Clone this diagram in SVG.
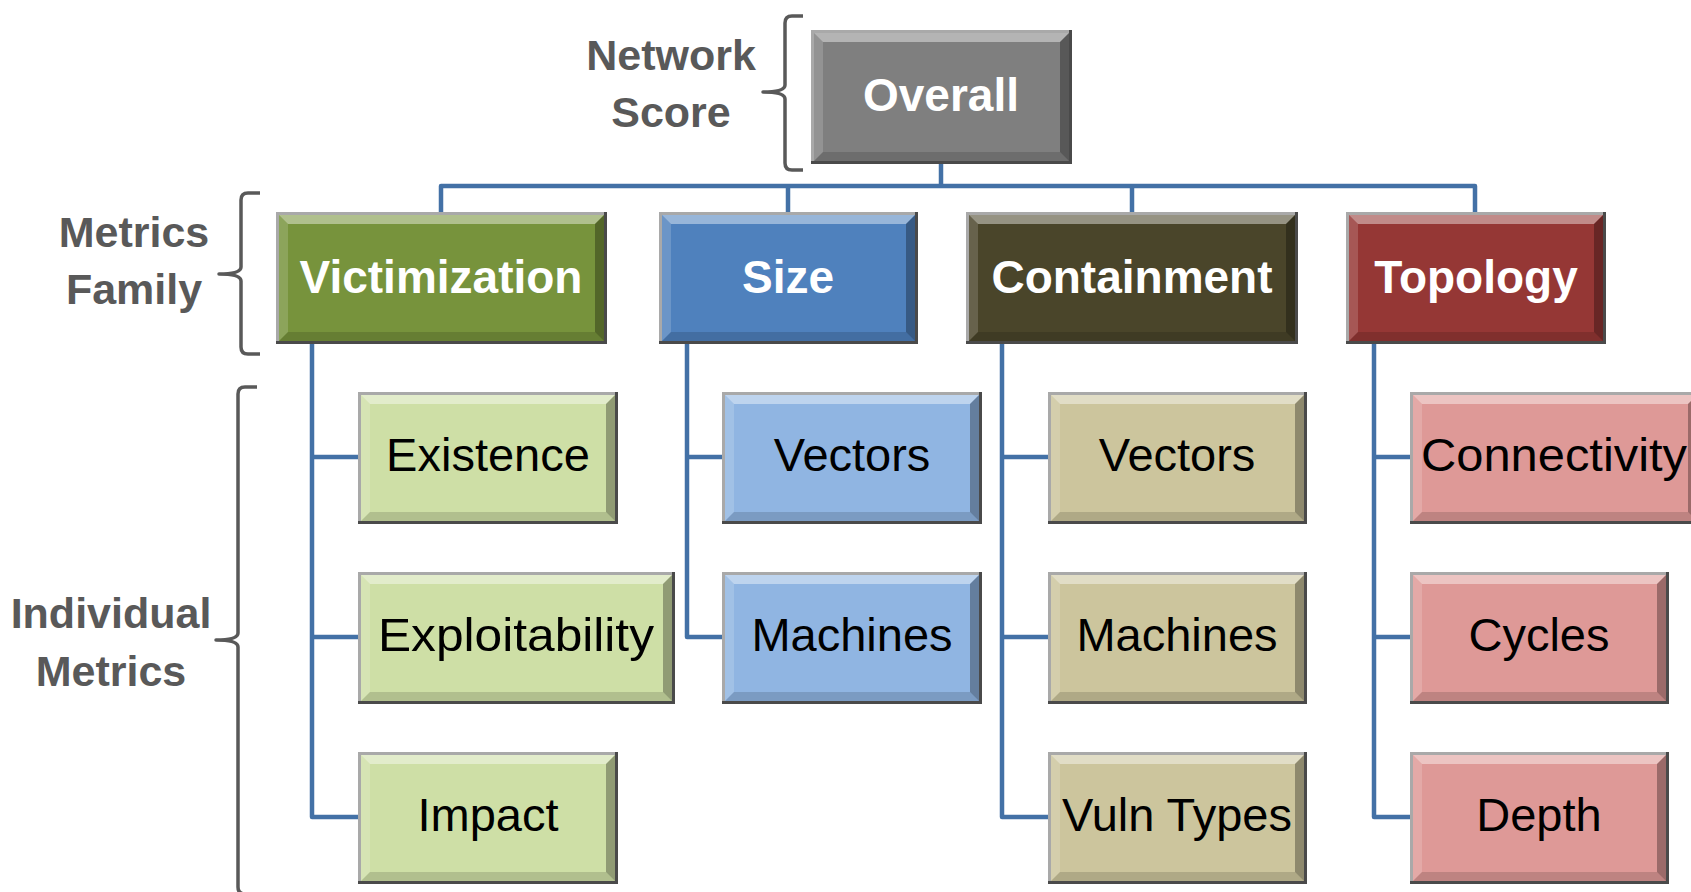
<svg xmlns="http://www.w3.org/2000/svg" xmlns:xlink="http://www.w3.org/1999/xlink" width="1691" height="892" viewBox="0 0 1691 892">
  <style>
    .edge-dark { fill: #4a4a4a; }
    .edge-light { fill: #a9a9a9; }
    .bv-t { fill: #ffffff; fill-opacity: 0.42; }
    .bv-l { fill: #ffffff; fill-opacity: 0.16; }
    .bv-b { fill: #000000; fill-opacity: 0.14; }
    .bv-r { fill: #000000; fill-opacity: 0.3; }
    .gray .face { fill: #7f7f7f; }
    .olive .face { fill: #77933c; }
    .blue .face { fill: #4f81bd; }
    .brown .face { fill: #4a452a; }
    .red .face { fill: #953735; }
    .lgreen .face { fill: #cedfa6; }
    .lblue .face { fill: #90b5e2; }
    .tan .face { fill: #ccc59d; }
    .pink .face { fill: #de9997; }
    .node text { font-family: "Liberation Sans", Arial, sans-serif; text-anchor: middle; }
    .family text { font-size: 46px; font-weight: bold; fill: #ffffff; }
    .leaf text { font-size: 47px; fill: #000000; }
    .conn { fill: none; stroke: #4371a6; stroke-width: 4.5; stroke-linejoin: round; }
    .brace { fill: none; stroke: #595959; stroke-width: 3.5; stroke-linejoin: round; }
    .tier { font-family: "Liberation Sans", Arial, sans-serif; font-size: 43px; font-weight: bold; fill: #595959; text-anchor: middle; }
  </style>
  <defs>
    <!-- left bevel strip, shared by every 132px-high box -->
    <path id="bv-left" class="bv-l" d="M3,3L12,12V120L3,129Z"/>
  </defs>

  <rect width="1691" height="892" fill="#ffffff"/>

  <!-- tier labels and braces -->
  <g id="tier-labels">
    <text class="tier" x="671" y="70">Network</text>
    <text class="tier" x="671" y="127">Score</text>
    <text class="tier" x="134" y="247">Metrics</text>
    <text class="tier" x="134" y="304">Family</text>
    <text class="tier" x="111" y="628">Individual</text>
    <text class="tier" x="111" y="686">Metrics</text>
  </g>
  <g id="braces">
    <path class="brace" d="M803,16H792Q785,16 785,23V85Q785,92 763,92Q785,92 785,99V163Q785,170 792,170H803"/>
    <path class="brace" d="M260,193H248Q241,193 241,200V267Q241,274 219,274Q241,274 241,281V347Q241,354 248,354H260"/>
    <path class="brace" d="M257,387H245Q238,387 238,394V633Q238,640 216,640Q238,640 238,647V887Q238,894 245,894H257"/>
  </g>

  <!-- tree connectors -->
  <g id="connectors">
    <path class="conn" d="M941,164V186"/>
    <path class="conn" d="M441,212V186H1475V212"/>
    <path class="conn" d="M788,186V212"/>
    <path class="conn" d="M1132,186V212"/>
    <path class="conn" d="M312,344V817H358M312,457H358M312,637H358"/>
    <path class="conn" d="M687,344V637H722M687,457H722"/>
    <path class="conn" d="M1002,344V817H1048M1002,457H1048M1002,637H1048"/>
    <path class="conn" d="M1374,344V817H1410M1374,457H1410M1374,637H1410"/>
  </g>

  <!-- root -->
  <g id="node-overall" class="node family gray" transform="translate(811,30)">
    <rect class="edge-dark" width="261" height="134"/>
    <rect class="edge-light" width="258" height="131"/>
    <rect class="face" x="3" y="3" width="255" height="128"/>
    <path class="bv-t" d="M3,3H258L249,12H12Z"/>
    <path class="bv-l" d="M3,3L12,12V122L3,131Z"/>
    <path class="bv-b" d="M3,131L12,122H249L258,131Z"/>
    <path class="bv-r" d="M258,3V131L249,122V12Z"/>
    <text x="130" y="81">Overall</text>
  </g>

  <!-- metric families -->
  <g id="node-victimization" class="node family olive" transform="translate(276,212)">
    <rect class="edge-dark" width="331" height="132"/>
    <rect class="edge-light" width="328" height="129"/>
    <rect class="face" x="3" y="3" width="325" height="126"/>
    <path class="bv-t" d="M3,3H328L319,12H12Z"/>
    <use href="#bv-left"/>
    <path class="bv-b" d="M3,129L12,120H319L328,129Z"/>
    <path class="bv-r" d="M328,3V129L319,120V12Z"/>
    <text x="165" y="81">Victimization</text>
  </g>
  <g id="node-size" class="node family blue" transform="translate(659,212)">
    <rect class="edge-dark" width="259" height="132"/>
    <rect class="edge-light" width="256" height="129"/>
    <rect class="face" x="3" y="3" width="253" height="126"/>
    <path class="bv-t" d="M3,3H256L247,12H12Z"/>
    <use href="#bv-left"/>
    <path class="bv-b" d="M3,129L12,120H247L256,129Z"/>
    <path class="bv-r" d="M256,3V129L247,120V12Z"/>
    <text x="129" y="81">Size</text>
  </g>
  <g id="node-containment" class="node family brown" transform="translate(966,212)">
    <rect class="edge-dark" width="332" height="132"/>
    <rect class="edge-light" width="329" height="129"/>
    <rect class="face" x="3" y="3" width="326" height="126"/>
    <path class="bv-t" d="M3,3H329L320,12H12Z"/>
    <use href="#bv-left"/>
    <path class="bv-b" d="M3,129L12,120H320L329,129Z"/>
    <path class="bv-r" d="M329,3V129L320,120V12Z"/>
    <text x="166" y="81">Containment</text>
  </g>
  <g id="node-topology" class="node family red" transform="translate(1346,212)">
    <rect class="edge-dark" width="260" height="132"/>
    <rect class="edge-light" width="257" height="129"/>
    <rect class="face" x="3" y="3" width="254" height="126"/>
    <path class="bv-t" d="M3,3H257L248,12H12Z"/>
    <use href="#bv-left"/>
    <path class="bv-b" d="M3,129L12,120H248L257,129Z"/>
    <path class="bv-r" d="M257,3V129L248,120V12Z"/>
    <text x="130" y="81">Topology</text>
  </g>

  <!-- victimization metrics -->
  <g id="node-existence" class="node leaf lgreen" transform="translate(358,392)">
    <rect class="edge-dark" width="260" height="132"/>
    <rect class="edge-light" width="257" height="129"/>
    <rect class="face" x="3" y="3" width="254" height="126"/>
    <path class="bv-t" d="M3,3H257L248,12H12Z"/>
    <use href="#bv-left"/>
    <path class="bv-b" d="M3,129L12,120H248L257,129Z"/>
    <path class="bv-r" d="M257,3V129L248,120V12Z"/>
    <text x="130" y="79">Existence</text>
  </g>
  <g id="node-exploitability" class="node leaf lgreen" transform="translate(358,572)">
    <rect class="edge-dark" width="317" height="132"/>
    <rect class="edge-light" width="314" height="129"/>
    <rect class="face" x="3" y="3" width="311" height="126"/>
    <path class="bv-t" d="M3,3H314L305,12H12Z"/>
    <use href="#bv-left"/>
    <path class="bv-b" d="M3,129L12,120H305L314,129Z"/>
    <path class="bv-r" d="M314,3V129L305,120V12Z"/>
    <text x="158" y="79" textLength="276" lengthAdjust="spacingAndGlyphs">Exploitability</text>
  </g>
  <g id="node-impact" class="node leaf lgreen" transform="translate(358,752)">
    <rect class="edge-dark" width="260" height="132"/>
    <rect class="edge-light" width="257" height="129"/>
    <rect class="face" x="3" y="3" width="254" height="126"/>
    <path class="bv-t" d="M3,3H257L248,12H12Z"/>
    <use href="#bv-left"/>
    <path class="bv-b" d="M3,129L12,120H248L257,129Z"/>
    <path class="bv-r" d="M257,3V129L248,120V12Z"/>
    <text x="130" y="79">Impact</text>
  </g>

  <!-- size metrics -->
  <g id="node-size-vectors" class="node leaf lblue" transform="translate(722,392)">
    <rect class="edge-dark" width="260" height="132"/>
    <rect class="edge-light" width="257" height="129"/>
    <rect class="face" x="3" y="3" width="254" height="126"/>
    <path class="bv-t" d="M3,3H257L248,12H12Z"/>
    <use href="#bv-left"/>
    <path class="bv-b" d="M3,129L12,120H248L257,129Z"/>
    <path class="bv-r" d="M257,3V129L248,120V12Z"/>
    <text x="130" y="79">Vectors</text>
  </g>
  <g id="node-size-machines" class="node leaf lblue" transform="translate(722,572)">
    <rect class="edge-dark" width="260" height="132"/>
    <rect class="edge-light" width="257" height="129"/>
    <rect class="face" x="3" y="3" width="254" height="126"/>
    <path class="bv-t" d="M3,3H257L248,12H12Z"/>
    <use href="#bv-left"/>
    <path class="bv-b" d="M3,129L12,120H248L257,129Z"/>
    <path class="bv-r" d="M257,3V129L248,120V12Z"/>
    <text x="130" y="79">Machines</text>
  </g>

  <!-- containment metrics -->
  <g id="node-containment-vectors" class="node leaf tan" transform="translate(1048,392)">
    <rect class="edge-dark" width="259" height="132"/>
    <rect class="edge-light" width="256" height="129"/>
    <rect class="face" x="3" y="3" width="253" height="126"/>
    <path class="bv-t" d="M3,3H256L247,12H12Z"/>
    <use href="#bv-left"/>
    <path class="bv-b" d="M3,129L12,120H247L256,129Z"/>
    <path class="bv-r" d="M256,3V129L247,120V12Z"/>
    <text x="129" y="79">Vectors</text>
  </g>
  <g id="node-containment-machines" class="node leaf tan" transform="translate(1048,572)">
    <rect class="edge-dark" width="259" height="132"/>
    <rect class="edge-light" width="256" height="129"/>
    <rect class="face" x="3" y="3" width="253" height="126"/>
    <path class="bv-t" d="M3,3H256L247,12H12Z"/>
    <use href="#bv-left"/>
    <path class="bv-b" d="M3,129L12,120H247L256,129Z"/>
    <path class="bv-r" d="M256,3V129L247,120V12Z"/>
    <text x="129" y="79">Machines</text>
  </g>
  <g id="node-vuln-types" class="node leaf tan" transform="translate(1048,752)">
    <rect class="edge-dark" width="259" height="132"/>
    <rect class="edge-light" width="256" height="129"/>
    <rect class="face" x="3" y="3" width="253" height="126"/>
    <path class="bv-t" d="M3,3H256L247,12H12Z"/>
    <use href="#bv-left"/>
    <path class="bv-b" d="M3,129L12,120H247L256,129Z"/>
    <path class="bv-r" d="M256,3V129L247,120V12Z"/>
    <text x="129" y="79">Vuln Types</text>
  </g>

  <!-- topology metrics -->
  <g id="node-connectivity" class="node leaf pink" transform="translate(1410,392)">
    <rect class="edge-dark" width="290" height="132"/>
    <rect class="edge-light" width="287" height="129"/>
    <rect class="face" x="3" y="3" width="284" height="126"/>
    <path class="bv-t" d="M3,3H287L278,12H12Z"/>
    <use href="#bv-left"/>
    <path class="bv-b" d="M3,129L12,120H278L287,129Z"/>
    <path class="bv-r" d="M287,3V129L278,120V12Z"/>
    <text x="144" y="79" textLength="266" lengthAdjust="spacingAndGlyphs">Connectivity</text>
  </g>
  <g id="node-cycles" class="node leaf pink" transform="translate(1410,572)">
    <rect class="edge-dark" width="259" height="132"/>
    <rect class="edge-light" width="256" height="129"/>
    <rect class="face" x="3" y="3" width="253" height="126"/>
    <path class="bv-t" d="M3,3H256L247,12H12Z"/>
    <use href="#bv-left"/>
    <path class="bv-b" d="M3,129L12,120H247L256,129Z"/>
    <path class="bv-r" d="M256,3V129L247,120V12Z"/>
    <text x="129" y="79">Cycles</text>
  </g>
  <g id="node-depth" class="node leaf pink" transform="translate(1410,752)">
    <rect class="edge-dark" width="259" height="132"/>
    <rect class="edge-light" width="256" height="129"/>
    <rect class="face" x="3" y="3" width="253" height="126"/>
    <path class="bv-t" d="M3,3H256L247,12H12Z"/>
    <use href="#bv-left"/>
    <path class="bv-b" d="M3,129L12,120H247L256,129Z"/>
    <path class="bv-r" d="M256,3V129L247,120V12Z"/>
    <text x="129" y="79">Depth</text>
  </g>
</svg>
